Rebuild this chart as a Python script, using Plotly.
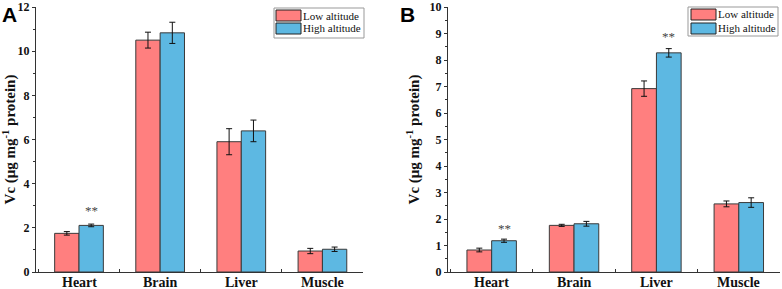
import plotly.graph_objects as go

categories = ["Heart", "Brain", "Liver", "Muscle"]

a_low = [1.75, 10.5, 5.9, 0.95]
a_low_err = [0.08, 0.36, 0.59, 0.12]
a_high = [2.11, 10.83, 6.39, 1.03]
a_high_err = [0.06, 0.48, 0.49, 0.1]

b_low = [0.83, 1.76, 6.92, 2.57]
b_low_err = [0.07, 0.04, 0.29, 0.11]
b_high = [1.18, 1.82, 8.27, 2.62]
b_high_err = [0.06, 0.09, 0.16, 0.18]

series_names = ["Low altitude", "High altitude"]
colors = ["#FF7F7F", "#5DB8E2"]

SERIF = "Liberation Serif"
W, H = 782, 289

fig = go.Figure()

def add_bars(vals, errs, name, color, xa, ya):
    fig.add_trace(go.Bar(
        x=categories, y=vals, name=name, xaxis=xa, yaxis=ya,
        marker=dict(color=color, line=dict(color="#3a3a3a", width=1)),
        error_y=dict(type="data", array=errs, color="#111111", thickness=1, width=3),
        showlegend=False,
    ))

add_bars(a_low, a_low_err, series_names[0], colors[0], "x", "y")
add_bars(a_high, a_high_err, series_names[1], colors[1], "x", "y")
add_bars(b_low, b_low_err, series_names[0], colors[0], "x2", "y2")
add_bars(b_high, b_high_err, series_names[1], colors[1], "x2", "y2")

ydom = [(H - 272) / H, (H - 7) / H]

common_x = dict(
    type="category", showline=True, linecolor="#333", linewidth=1,
    ticks="inside", tickson="boundaries", ticklen=3, tickcolor="#333",
    showticklabels=False,
    showgrid=False, zeroline=False, range=[-0.53, 3.5], automargin=False,
)
common_y = dict(
    showline=True, linecolor="#333", linewidth=1,
    ticks="outside", ticklen=3, tickcolor="#333",
    tickfont=dict(family=SERIF, size=12, color="#111", weight="bold"),
    showgrid=False, zeroline=False, automargin=False,
    minor=dict(ticks="outside", ticklen=2, tickcolor="#333"),
    title=dict(text="Vc (μg mg<sup>-1</sup> protein)",
               font=dict(family=SERIF, size=15, color="#111", weight="bold"),
               standoff=6),
)

fig.update_layout(
    width=W, height=H,
    margin=dict(l=0, r=0, t=0, b=0),
    plot_bgcolor="white", paper_bgcolor="white",
    barmode="group", bargap=0.4, bargroupgap=0,
    xaxis=dict(domain=[36 / W, 363 / W], anchor="y", **common_x),
    yaxis=dict(domain=ydom, anchor="x", range=[0, 12], dtick=2,
               minor_dtick=1, **common_y),
    xaxis2=dict(domain=[448 / W, 780 / W], anchor="y2", **common_x),
    yaxis2=dict(domain=ydom, anchor="x2", range=[0, 10], dtick=1,
                minor_dtick=0.5, **common_y),
)

# category labels (placed just under each x axis)
for xa in ["x", "x2"]:
    for i, cat in enumerate(categories):
        fig.add_annotation(text=f"<b>{cat}</b>", xref=xa, yref="paper", x=i,
                           y=1 - 282 / H, yanchor="middle", showarrow=False,
                           font=dict(family=SERIF, size=14, color="#111"))

# panel letters
fig.add_annotation(text="<b>A</b>", xref="paper", yref="paper", x=0 / W, y=1 - 1 / H,
                   xanchor="left", yanchor="top", showarrow=False,
                   font=dict(family="Liberation Sans", size=21, color="#000"))
fig.add_annotation(text="<b>B</b>", xref="paper", yref="paper", x=398 / W, y=1 - 1 / H,
                   xanchor="left", yanchor="top", showarrow=False,
                   font=dict(family="Liberation Sans", size=21, color="#000"))

# significance marks
for xa, ya, xi, yv in [("x", "y", 0.15, 2.8), ("x2", "y2", 0.15, 1.66), ("x2", "y2", 2.15, 8.9)]:
    fig.add_annotation(text="**", xref=xa, yref=ya, x=xi, y=yv, showarrow=False,
                       yanchor="middle", font=dict(family=SERIF, size=13, color="#444"))

# custom legends
def legend(x0, x1, y0, y1, sw0, sw1, rows, tx):
    fig.add_shape(type="rect", xref="paper", yref="paper",
                  x0=x0 / W, x1=x1 / W, y0=1 - y1 / H, y1=1 - y0 / H,
                  line=dict(color="#999", width=1), fillcolor="white")
    for (r0, r1), name, col in zip(rows, series_names, colors):
        fig.add_shape(type="rect", xref="paper", yref="paper",
                      x0=sw0 / W, x1=sw1 / W, y0=1 - r1 / H, y1=1 - r0 / H,
                      line=dict(color="#222", width=1), fillcolor=col)
        fig.add_annotation(text=name, xref="paper", yref="paper", x=tx / W,
                           y=1 - (r0 + r1) / 2 / H, xanchor="left", yanchor="middle",
                           showarrow=False, font=dict(family=SERIF, size=11, color="#111"))

legend(274, 364, 8, 38, 276, 301, [(10, 21), (23, 34)], 301)
legend(688, 778, 7, 36, 691, 716, [(9, 20), (23, 34)], 716)

fig.write_html("out.html", config={"displayModeBar": False},
               post_script="document.body.style.margin='0';document.body.style.overflow='hidden';")
